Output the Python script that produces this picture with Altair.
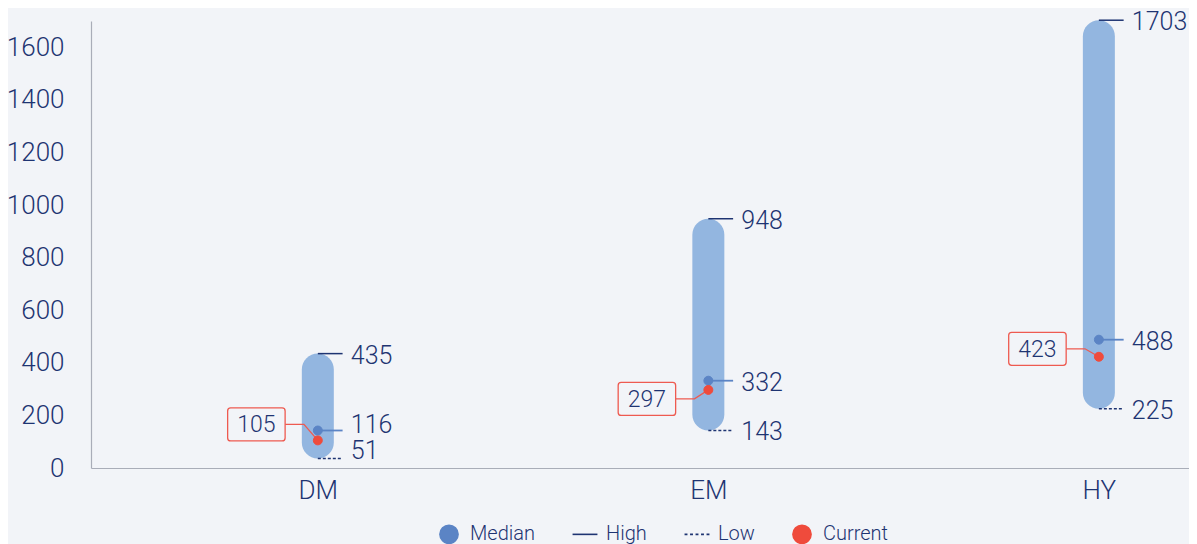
import json
import altair as alt
import pandas as pd

# ---------------- data ----------------
categories = ["DM", "EM", "HY"]
high = [435, 948, 1703]
low = [51, 143, 225]
median = [116, 332, 488]
current = [105, 297, 423]
y_ticks = [0, 200, 400, 600, 800, 1000, 1200, 1400, 1600]
legend_items = ["Median", "High", "Low", "Current"]

# ---------------- layout / style ----------------
FONT = "Roboto"
FW = 300
BG = "#F2F4F8"
NAVY = "#1E3472"
BAR = "#93B6E0"
BLUE = "#5B84C5"
RED = "#EF4B3C"
BOXRED = "#EE5A50"
AXIS_GREY = "#A9ADB8"

W, H = 1098, 447
X_DOM = [-0.568, 2.218]
Y_DOM = [0, 1700]
KX = W / (X_DOM[1] - X_DOM[0])   # px per x unit
KY = H / (Y_DOM[1] - Y_DOM[0])   # px per y unit
callout_dy = [-16, 9, -8]        # vertical nudge of callout boxes (px)
median_nudge = [-7, 0, 0]        # display nudges (px) to keep close marks apart
low_nudge = [4, 0, 0]
median_label_nudge = [-14, 0, 0]
low_label_nudge = [-6, 0, 0]
BOX_DX, BOX_W, BOX_H = -62, 58, 33
ELBOW_DX = -14
TICK_LEN = 25
LABEL_DX = 33
LABEL_DY = 2

df = pd.DataFrame({
    "cat": categories,
    "idx": list(range(len(categories))),
    "high": high,
    "low": low,
    "median": median,
    "current": current,
    "dy": callout_dy,
    "mn": median_nudge,
    "ln": low_nudge,
    "mln": median_label_nudge,
    "lln": low_label_nudge,
})

xs = alt.Scale(domain=X_DOM, nice=False, zero=False)
ys = alt.Scale(domain=Y_DOM, nice=False, zero=False)
xaxis = alt.Axis(
    values=list(range(len(categories))),
    labelExpr=json.dumps(categories) + "[datum.value]",
    ticks=False, grid=False, title=None,
    domainColor=AXIS_GREY, domainWidth=1.2,
    labelFont=FONT, labelFontWeight=FW, labelFontSize=26, labelColor=NAVY, labelPadding=9,
    labelFlush=False,
)
yaxis = alt.Axis(
    values=y_ticks, ticks=False, grid=False, title=None, format="d",
    domainColor=AXIS_GREY, domainWidth=1.2,
    labelFont=FONT, labelFontWeight=FW, labelFontSize=26, labelColor=NAVY, labelPadding=27,
)


def X(f):
    return alt.X(f, type="quantitative", scale=xs, axis=xaxis)


def Y(f):
    return alt.Y(f, type="quantitative", scale=ys, axis=yaxis)


base = alt.Chart(df).transform_calculate(
    x_end=f"datum.idx + {TICK_LEN / KX}",
    med_d=f"datum.median - datum.mn / {KY}",
    low_d=f"datum.low - datum.ln / {KY}",
    high_lab=f"datum.high - {LABEL_DY} / {KY}",
    med_lab=f"datum.median - (datum.mln + {LABEL_DY}) / {KY}",
    low_lab=f"datum.low - (datum.lln + {LABEL_DY}) / {KY}",
)

bars = base.mark_bar(width=32, cornerRadius=16, color=BAR).encode(
    x=X("idx"), y=Y("low_d"), y2=alt.Y2("high")
)

high_rule = base.mark_rule(color=NAVY, strokeWidth=1.5).encode(
    x=X("idx"), x2=alt.X2("x_end"), y=Y("high")
)
low_rule = base.mark_rule(color=NAVY, strokeWidth=1.5, strokeDash=[3, 2]).encode(
    x=X("idx"), x2=alt.X2("x_end"), y=Y("low_d")
)
med_rule = base.mark_rule(color=BLUE, strokeWidth=1.8).encode(
    x=X("idx"), x2=alt.X2("x_end"), y=Y("med_d")
)

# value labels
lab_kw = dict(align="left", baseline="middle", dx=LABEL_DX, font=FONT, fontWeight=FW,
              fontSize=25, color=NAVY)
high_txt = base.mark_text(**lab_kw).encode(x=X("idx"), y=Y("high_lab"), text="high:Q")
low_txt = base.mark_text(**lab_kw).encode(x=X("idx"), y=Y("low_lab"), text="low:Q")
med_txt = base.mark_text(**lab_kw).encode(x=X("idx"), y=Y("med_lab"), text="median:Q")

# callout boxes for current value
box = alt.Chart(df).transform_calculate(
    bx=f"datum.idx + {BOX_DX / KX}",
    bx1=f"datum.idx + {(BOX_DX - BOX_W / 2) / KX}",
    bx2=f"datum.idx + {(BOX_DX + BOX_W / 2) / KX}",
    by=f"datum.current - datum.dy / {KY}",
    by1=f"datum.current - (datum.dy - {BOX_H / 2}) / {KY}",
    by2=f"datum.current - (datum.dy + {BOX_H / 2}) / {KY}",
)
box_rect = box.mark_rect(fill=BG, stroke=BOXRED, strokeWidth=1.3, cornerRadius=3).encode(
    x=X("bx1"), x2=alt.X2("bx2"), y=Y("by1"), y2=alt.Y2("by2")
)
box_txt = box.mark_text(font=FONT, fontWeight=FW, fontSize=23, color=NAVY, baseline="middle",
                        align="center", dy=1).encode(
    x=X("bx"), y=Y("by"), text="current:Q"
)

# connector lines box -> current dot
conn_rows = []
for i, c in enumerate(categories):
    by = current[i] - callout_dy[i] / KY
    conn_rows.append({"cat": c, "ord": 0, "cx": i + (BOX_DX + BOX_W / 2) / KX, "cy": by})
    conn_rows.append({"cat": c, "ord": 1, "cx": i + ELBOW_DX / KX, "cy": by})
    conn_rows.append({"cat": c, "ord": 2, "cx": i, "cy": current[i]})
conn = alt.Chart(pd.DataFrame(conn_rows)).mark_line(color=BOXRED, strokeWidth=1.3).encode(
    x=X("cx"), y=Y("cy"), detail="cat:N", order="ord:Q"
)

# dots (and the legend)
n = len(categories)
pts = pd.DataFrame({
    "idx": list(range(n)) * 2,
    "series": ["Median"] * n + ["Current"] * n,
    "value": [median[i] - median_nudge[i] / KY for i in range(n)] + current,
})
r = 1.37
dash, gap = 0.32, 0.285
segs = []
s = -r
for k in range(5):
    segs.append(f"M{s:.3f},0H{s + dash:.3f}")
    s += dash + gap
vert = "M0,-1M0,1"
dash_path = "".join(segs) + vert
line_path = f"M{-r},0H{r}" + vert

color_scale = alt.Scale(domain=legend_items, range=[BLUE, NAVY, NAVY, RED])
shape_scale = alt.Scale(domain=legend_items, range=["circle", line_path, dash_path, "circle"])
leg = alt.Legend(
    title=None, orient="none", direction="horizontal", columns=4,
    legendX=348, legendY=503, padding=0,
    labelFont=FONT, labelFontWeight=FW, labelFontSize=20, labelColor=NAVY, labelOffset=11,
    symbolSize=330, symbolStrokeWidth=1.6, columnPadding=34,
)
dots = alt.Chart(pts).mark_point(filled=True, size=80, strokeWidth=1, opacity=1).encode(
    x=X("idx"), y=Y("value"),
    fill=alt.Fill("series:N", scale=color_scale, legend=leg),
    stroke=alt.Stroke("series:N", scale=color_scale, legend=leg),
    shape=alt.Shape("series:N", scale=shape_scale, legend=leg),
)

chart = alt.layer(
    bars, high_rule, low_rule, med_rule, conn, box_rect, box_txt, dots,
    high_txt, low_txt, med_txt,
).properties(
    width=W, height=H,
    autosize=alt.AutoSizeParams(type="none"),
    padding={"left": 83, "top": 13, "right": 0, "bottom": 76},
    background=BG,
).configure_view(stroke=None)

chart.save("out.html", embed_options={"renderer": "svg", "actions": False})
